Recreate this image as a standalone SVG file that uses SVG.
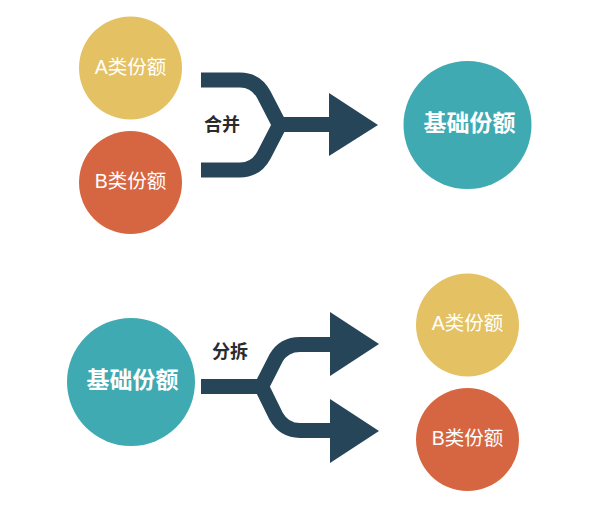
<svg xmlns="http://www.w3.org/2000/svg" width="600" height="529" viewBox="0 0 600 529">
<style>
.bg{fill:#fff}
.y{fill:#e4c163}
.o{fill:#d66641}
.t{fill:#3faab1}
.c{fill:none;stroke:#274558;stroke-width:15;stroke-linejoin:miter}
.h{fill:#274558}
text{font-family:"Liberation Sans","Noto Sans CJK SC",sans-serif;text-anchor:middle}
.s{font-size:19.500px;fill:#fff}
.l{font-size:23px;fill:#fff;font-weight:700}
.k{font-size:18px;fill:#2b2b2b;font-weight:700}
</style>
<rect class="bg" width="600" height="529"/>
<g id="connectors">
<g id="merge">
<path class="c" d="M201 80H240Q256 80 264 95L279.500 125L264 155Q256 170 240 170H201"/>
<path class="c" d="M279 124.500H335"/>
<polygon class="h" points="329,93 378,125 329,156"/>
</g>
<g id="split">
<path class="c" d="M201 386.500H266"/>
<path class="c" d="M335 344.500H300Q284 344.500 276 358L261.500 386.500L276 416Q284 430.500 300 430.500H335"/>
<polygon class="h" points="330,312 379,344 330,376"/>
<polygon class="h" points="330,399 379,431 330,463"/>
</g>
</g>
<g id="label-merge"><text class="k" x="222" y="131">合并</text></g>
<g id="label-split"><text class="k" x="230" y="358">分拆</text></g>
<g id="a-top"><circle class="y" cx="130.500" cy="68" r="51.500"/><text class="s" x="130.500" y="73.500">A类份额</text></g>
<g id="b-top"><circle class="o" cx="130.500" cy="182.500" r="51.500"/><text class="s" x="130.500" y="187.500">B类份额</text></g>
<g id="base-top"><circle class="t" cx="467.500" cy="125" r="64"/><text class="l" x="469.500" y="131">基础份额</text></g>
<g id="base-bottom"><circle class="t" cx="131" cy="382" r="64"/><text class="l" x="132.500" y="388">基础份额</text></g>
<g id="a-bottom"><circle class="y" cx="467.500" cy="325" r="51.500"/><text class="s" x="467.500" y="330">A类份额</text></g>
<g id="b-bottom"><circle class="o" cx="467.500" cy="439.500" r="51.500"/><text class="s" x="467.500" y="444.500">B类份额</text></g>
</svg>
